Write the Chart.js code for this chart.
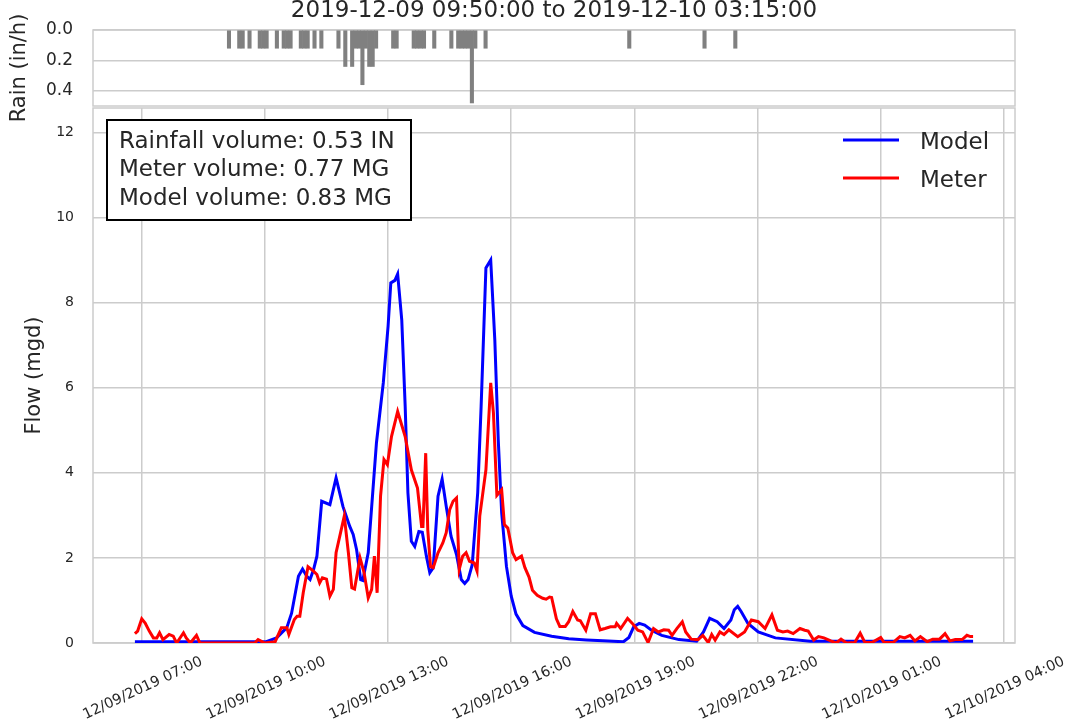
<!DOCTYPE html>
<html>
<head>
<meta charset="utf-8">
<title>Rain and flow</title>
<script src="https://cdn.jsdelivr.net/npm/chart.js@4/dist/chart.umd.min.js"></script>
<style>
    html, body { margin: 0; padding: 0; background: #fff; }
    #wrap { position: relative; width: 1067px; height: 728px; overflow: hidden; }
    #wrap canvas { position: absolute; left: 0; top: 0; }
</style>
</head>
<body>
<div id="wrap">
    <canvas id="rainChart" width="1067" height="728"></canvas>
    <canvas id="flowChart" width="1067" height="728"></canvas>
</div>
<script>
const FONT = 'DejaVu Sans';
const TEXT = '#262626';
const GRID = '#cccccc';

const titleText = '2019-12-09 09:50:00 to 2019-12-10 03:15:00';
const summaryLines = ['Rainfall volume: 0.53 IN', 'Meter volume: 0.77 MG', 'Model volume: 0.83 MG'];

// rain gauge, 5 minute intervals (start time, in/h)
const rainStart = ['09:05', '09:20', '09:25', '09:35', '09:50', '09:55', '10:00', '10:15', '10:25', '10:30',
    '10:35', '10:50', '10:55', '11:00', '11:10', '11:20', '11:45', '11:55', '12:05', '12:10',
    '12:15', '12:20', '12:25', '12:30', '12:35', '12:40', '13:05', '13:10', '13:35', '13:40',
    '13:45', '13:50', '14:05', '14:30', '14:40', '14:45', '14:50', '14:55', '15:00', '15:05',
    '15:20', '18:50', '20:40', '21:25'];
const rainRate = [0.12, 0.12, 0.12, 0.12, 0.12, 0.12, 0.12, 0.12, 0.12, 0.12,
    0.12, 0.12, 0.12, 0.12, 0.12, 0.12, 0.12, 0.24, 0.24, 0.12,
    0.12, 0.36, 0.12, 0.24, 0.24, 0.12, 0.12, 0.12, 0.12, 0.12,
    0.12, 0.12, 0.12, 0.12, 0.12, 0.12, 0.12, 0.12, 0.48, 0.12,
    0.12, 0.12, 0.12, 0.12];

// model flow (mgd)
const modelTimes = ['06:50', '10:02', '10:17', '10:32', '10:39', '10:49', '10:55', '11:01', '11:06', '11:11',
    '11:16', '11:23', '11:35', '11:44', '11:54', '12:04', '12:09', '12:14', '12:20', '12:23',
    '12:31', '12:43', '12:53', '13:00', '13:04', '13:10', '13:14', '13:20', '13:25', '13:29',
    '13:34', '13:39', '13:45', '13:50', '13:56', '14:01', '14:06', '14:13', '14:19', '14:25',
    '14:32', '14:40', '14:47', '14:52', '14:57', '15:03', '15:11', '15:16', '15:23', '15:30',
    '15:36', '15:41', '15:46', '15:53', '16:00', '16:07', '16:17', '16:34', '16:59', '17:24',
    '17:50', '18:14', '18:44', '18:52', '18:59', '19:07', '19:15', '19:25', '19:40', '20:05',
    '20:31', '20:41', '20:50', '21:01', '21:11', '21:21', '21:26', '21:31', '21:36', '21:46',
    '22:01', '22:26', '23:17', '03:15'];
const modelFlow = [0.03, 0.03, 0.12, 0.36, 0.70, 1.57, 1.74, 1.57, 1.49, 1.72,
    2.04, 3.33, 3.25, 3.88, 3.21, 2.74, 2.55, 2.19, 1.49, 1.47,
    2.12, 4.70, 6.11, 7.44, 8.46, 8.52, 8.67, 7.59, 5.56, 3.53,
    2.39, 2.27, 2.62, 2.60, 2.04, 1.65, 1.77, 3.45, 3.85, 3.21,
    2.51, 2.08, 1.49, 1.40, 1.49, 1.84, 3.53, 5.56, 8.81, 9.00,
    7.12, 4.78, 3.06, 1.80, 1.10, 0.68, 0.41, 0.25, 0.16, 0.10,
    0.07, 0.05, 0.03, 0.13, 0.38, 0.46, 0.42, 0.30, 0.18, 0.08,
    0.04, 0.26, 0.58, 0.50, 0.34, 0.54, 0.78, 0.86, 0.74, 0.46,
    0.26, 0.12, 0.04, 0.04];

// flow meter (mgd)
const meterTimes = ['06:50', '06:54', '07:00', '07:05', '07:11', '07:17', '07:22', '07:26', '07:31', '07:40',
    '07:46', '07:51', '08:01', '08:05', '08:11', '08:20', '08:25', '09:45', '09:50', '09:55',
    '10:00', '10:15', '10:24', '10:32', '10:35', '10:43', '10:47', '10:51', '10:56', '11:03',
    '11:11', '11:16', '11:20', '11:24', '11:30', '11:35', '11:40', '11:44', '11:56', '12:02',
    '12:07', '12:11', '12:19', '12:25', '12:31', '12:36', '12:40', '12:44', '12:49', '12:54',
    '12:59', '13:05', '13:14', '13:25', '13:34', '13:43', '13:49', '13:51', '13:55', '13:58',
    '14:02', '14:06', '14:13', '14:20', '14:25', '14:30', '14:35', '14:40', '14:44', '14:49',
    '14:54', '14:59', '15:06', '15:10', '15:14', '15:23', '15:30', '15:34', '15:39', '15:46',
    '15:50', '15:55', '16:02', '16:07', '16:15', '16:20', '16:26', '16:31', '16:38', '16:46',
    '16:51', '16:56', '16:59', '17:06', '17:11', '17:19', '17:24', '17:30', '17:37', '17:41',
    '17:49', '17:56', '18:03', '18:10', '18:17', '18:25', '18:32', '18:34', '18:40', '18:50',
    '18:57', '19:05', '19:12', '19:20', '19:28', '19:35', '19:43', '19:50', '19:55', '20:02',
    '20:10', '20:15', '20:23', '20:33', '20:40', '20:48', '20:53', '20:58', '21:05', '21:11',
    '21:18', '21:31', '21:41', '21:51', '22:01', '22:11', '22:21', '22:29', '22:37', '22:44',
    '22:52', '23:02', '23:09', '23:14', '23:22', '23:29', '23:37', '23:47', '23:55', '00:02',
    '00:10', '00:22', '00:30', '00:37', '00:47', '01:00', '01:05', '01:18', '01:28', '01:35',
    '01:43', '01:50', '01:58', '02:08', '02:16', '02:26', '02:34', '02:41', '02:49', '02:59',
    '03:06', '03:11', '03:15'];
const meterFlow = [0.22, 0.28, 0.57, 0.47, 0.28, 0.12, 0.12, 0.24, 0.08, 0.20,
    0.16, 0.00, 0.24, 0.12, 0.00, 0.18, 0.00, 0.00, 0.08, 0.04,
    0.00, 0.03, 0.36, 0.36, 0.20, 0.55, 0.63, 0.63, 1.18, 1.79,
    1.69, 1.61, 1.41, 1.53, 1.50, 1.10, 1.26, 2.12, 2.98, 2.12,
    1.30, 1.27, 2.00, 1.65, 1.06, 1.26, 2.04, 1.18, 3.45, 4.31,
    4.19, 4.85, 5.44, 4.85, 4.07, 3.64, 2.74, 2.74, 4.46, 2.66,
    1.80, 1.77, 2.12, 2.35, 2.59, 3.13, 3.33, 3.41, 1.73, 2.04,
    2.12, 1.92, 1.88, 1.69, 2.98, 4.07, 6.11, 5.40, 3.47, 3.60,
    2.78, 2.70, 2.12, 1.96, 2.04, 1.77, 1.55, 1.24, 1.12, 1.05,
    1.03, 1.08, 1.07, 0.57, 0.39, 0.39, 0.50, 0.74, 0.54, 0.52,
    0.30, 0.69, 0.69, 0.31, 0.34, 0.38, 0.38, 0.46, 0.34, 0.58,
    0.46, 0.30, 0.26, 0.01, 0.34, 0.26, 0.31, 0.30, 0.18, 0.34,
    0.50, 0.26, 0.09, 0.08, 0.18, 0.01, 0.20, 0.07, 0.26, 0.20,
    0.31, 0.15, 0.26, 0.54, 0.50, 0.34, 0.66, 0.30, 0.26, 0.28,
    0.22, 0.34, 0.30, 0.28, 0.07, 0.15, 0.12, 0.05, 0.00, 0.09,
    0.00, 0.01, 0.23, 0.01, 0.01, 0.13, 0.01, 0.01, 0.15, 0.12,
    0.18, 0.05, 0.15, 0.03, 0.09, 0.09, 0.22, 0.05, 0.08, 0.08,
    0.18, 0.15, 0.15];

const xTickHours = [7, 10, 13, 16, 19, 22, 25, 28];
const xTickLabels = ['12/09/2019 07:00', '12/09/2019 10:00', '12/09/2019 13:00', '12/09/2019 16:00',
    '12/09/2019 19:00', '12/09/2019 22:00', '12/10/2019 01:00', '12/10/2019 04:00'];
const flowTicks = [0, 2, 4, 6, 8, 10, 12];
const rainTicks = [0, 0.2, 0.4];

// hours since 12/09 00:00, early morning belongs to the next day
function toHours(hhmm) {
    const [h, m] = hhmm.split(':').map(Number);
    return (h < 6 ? h + 24 : h) + m / 60;
}

const dataStart = toHours(modelTimes[0]);
const dataEnd = toHours(modelTimes[modelTimes.length - 1]);
const margin = (dataEnd - dataStart) * 0.05;
const xMin = dataStart - margin;
const xMax = dataEnd + margin;

const rainPoints = rainStart.map((t, i) => ({ x: toHours(t) + 2.5 / 60, y: rainRate[i] }));
const modelPoints = modelTimes.map((t, i) => ({ x: toHours(t), y: modelFlow[i] }));
const meterPoints = meterTimes.map((t, i) => ({ x: toHours(t), y: meterFlow[i] }));

// light grey box round the plot area
const framePlugin = {
    id: 'frame',
    beforeDatasetsDraw(chart) {
        const { ctx, chartArea: a } = chart;
        ctx.save();
        ctx.strokeStyle = GRID;
        ctx.lineWidth = 1.5;
        ctx.strokeRect(a.left, a.top, a.right - a.left, a.bottom - a.top);
        ctx.restore();
    }
};

const titlePlugin = {
    id: 'figTitle',
    afterDraw(chart) {
        const { ctx, chartArea: a } = chart;
        ctx.save();
        ctx.font = `23px "${FONT}"`;
        ctx.fillStyle = TEXT;
        ctx.textAlign = 'center';
        ctx.textBaseline = 'alphabetic';
        ctx.fillText(titleText, (a.left + a.right) / 2, 17);
        ctx.restore();
    }
};

// volume summary box and the legend
const notesPlugin = {
    id: 'notes',
    afterDraw(chart) {
        const { ctx, chartArea: a } = chart;
        ctx.save();
        const bx = a.left + 14, by = a.top + 12;
        ctx.fillStyle = '#ffffff';
        ctx.fillRect(bx, by, 304, 100);
        ctx.strokeStyle = '#000000';
        ctx.lineWidth = 2;
        ctx.strokeRect(bx, by, 304, 100);
        ctx.font = `23px "${FONT}"`;
        ctx.fillStyle = TEXT;
        ctx.textBaseline = 'alphabetic';
        summaryLines.forEach((line, i) => ctx.fillText(line, bx + 12, by + 28 + i * 28.3));

        chart.data.datasets.forEach((ds, i) => {
            const y = a.top + 32 + i * 38;
            ctx.strokeStyle = ds.borderColor;
            ctx.lineWidth = 3;
            ctx.beginPath();
            ctx.moveTo(843, y);
            ctx.lineTo(899, y);
            ctx.stroke();
            ctx.fillStyle = TEXT;
            ctx.fillText(ds.label, 920, y + 9);
        });
        ctx.restore();
    }
};

new Chart(document.getElementById('rainChart'), {
    type: 'bar',
    data: {
        datasets: [{
            data: rainPoints,
            backgroundColor: '#808080',
            borderWidth: 0,
            barPercentage: 1,
            categoryPercentage: 1
        }]
    },
    options: {
        responsive: false,
        animation: false,
        layout: { padding: { top: 30, right: 52, bottom: 622, left: 0 } },
        plugins: { legend: { display: false }, tooltip: { enabled: false } },
        scales: {
            x: { type: 'linear', min: xMin, max: xMax, offset: false, display: false },
            y: {
                reverse: true,
                min: 0,
                max: 0.5,
                afterBuildTicks: s => { s.ticks = rainTicks.map(v => ({ value: v })); },
                afterFit: s => { s.width = 93; s.paddingTop = 0; s.paddingBottom = 0; },
                grid: { color: GRID, lineWidth: 1.5, drawTicks: false },
                border: { display: false },
                ticks: { padding: 20, color: TEXT, font: { family: FONT, size: 17 }, callback: v => v.toFixed(1) },
                title: { display: true, text: 'Rain (in/h)', color: TEXT, font: { family: FONT, size: 21 }, padding: { top: 7, bottom: 0 } }
            }
        }
    },
    plugins: [framePlugin, titlePlugin]
});

new Chart(document.getElementById('flowChart'), {
    type: 'line',
    data: {
        datasets: [
            { label: 'Model', data: modelPoints, borderColor: '#0000ff', borderWidth: 3, pointRadius: 0, order: 1 },
            { label: 'Meter', data: meterPoints, borderColor: '#ff0000', borderWidth: 3, pointRadius: 0, order: 0 }
        ]
    },
    options: {
        responsive: false,
        animation: false,
        layout: { padding: { top: 108, right: 52, bottom: 0, left: 0 } },
        plugins: { legend: { display: false }, tooltip: { enabled: false } },
        scales: {
            x: {
                type: 'linear',
                min: xMin,
                max: xMax,
                afterBuildTicks: s => { s.ticks = xTickHours.map(v => ({ value: v })); },
                afterFit: s => { s.height = 85; s.paddingLeft = 0; s.paddingRight = 0; },
                grid: { color: GRID, lineWidth: 1.5, drawTicks: false },
                border: { display: false },
                ticks: {
                    autoSkip: false,
                    minRotation: 25,
                    maxRotation: 25,
                    padding: 10,
                    labelOffset: 60,
                    color: TEXT,
                    font: { family: FONT, size: 14.5 },
                    callback: (v, i) => xTickLabels[i]
                }
            },
            y: {
                min: 0,
                max: 12.57,
                afterBuildTicks: s => { s.ticks = flowTicks.map(v => ({ value: v })); },
                afterFit: s => { s.width = 93; s.paddingTop = 0; s.paddingBottom = 0; },
                grid: { color: GRID, lineWidth: 1.5, drawTicks: false },
                border: { display: false },
                ticks: { padding: 19, color: TEXT, font: { family: FONT, size: 14 } },
                title: { display: true, text: 'Flow (mgd)', color: TEXT, font: { family: FONT, size: 21 }, padding: { top: 22, bottom: 0 } }
            }
        }
    },
    plugins: [framePlugin, notesPlugin]
});
</script>
</body>
</html>
